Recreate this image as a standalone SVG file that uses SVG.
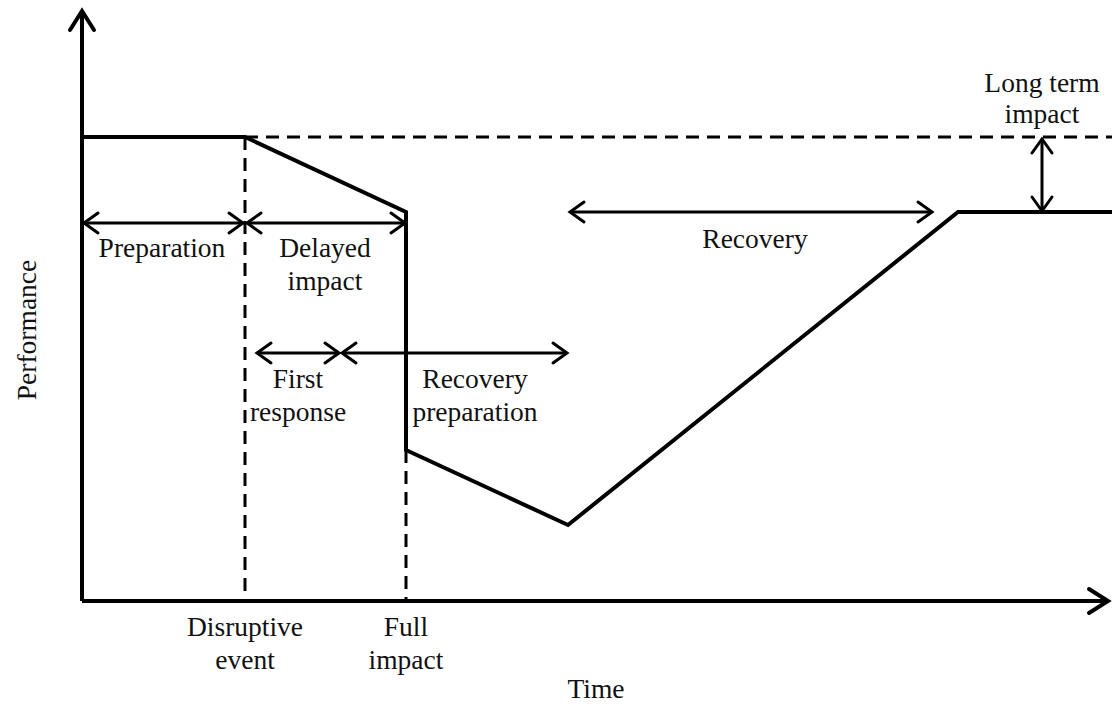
<svg xmlns="http://www.w3.org/2000/svg" width="1112" height="708" viewBox="0 0 1112 708">
<style>
text{font-family:"Liberation Serif","Times New Roman",serif;font-size:27.5px;fill:#111;text-anchor:middle}
.curve{fill:none;stroke:#000;stroke-width:4;stroke-linejoin:miter}
.axis{fill:none;stroke:#000;stroke-width:4}
.dash{fill:none;stroke:#000;stroke-width:3;stroke-dasharray:13 8}
.dim{fill:none;stroke:#000;stroke-width:3}
</style>
<defs>
<marker id="ah" markerUnits="userSpaceOnUse" markerWidth="40" markerHeight="40" refX="0" refY="0" orient="auto-start-reverse" overflow="visible">
<path d="M-14,-10 L0,0 L-14,10" fill="none" stroke="#000" stroke-width="3" stroke-linecap="round" stroke-linejoin="miter"/>
</marker>
<marker id="axh" markerUnits="userSpaceOnUse" markerWidth="40" markerHeight="40" refX="0" refY="0" orient="auto" overflow="visible">
<path d="M-19,-12 L0,0 L-19,12" fill="none" stroke="#000" stroke-width="4" stroke-linecap="round" stroke-linejoin="miter"/>
</marker>
</defs>
<g id="axes">
<path class="axis" d="M82,601 L82,11" marker-end="url(#axh)"/>
<path class="axis" d="M82,601 L1108,601" marker-end="url(#axh)"/>
<text id="ylabel" transform="translate(36,330) rotate(-90)">Performance</text>
<text id="xlabel" x="596" y="698">Time</text>
</g>
<g id="reference-lines">
<path class="dash" d="M245,137 L1112,137"/>
<path class="dash" d="M245,137 L245,601"/>
<path class="dash" d="M406,450 L406,601"/>
</g>
<g id="performance-curve">
<path class="curve" d="M82,137 L245,137 L406,212 L406,450 L568,525 L958,212 L1112,212"/>
</g>
<g id="connectors">
<path class="dim" d="M84,223 L243,223" marker-start="url(#ah)" marker-end="url(#ah)"/>
<path class="dim" d="M247,223 L405,223" marker-start="url(#ah)" marker-end="url(#ah)"/>
<path class="dim" d="M257,353 L339,353" marker-start="url(#ah)" marker-end="url(#ah)"/>
<path class="dim" d="M342,353 L567,353" marker-start="url(#ah)" marker-end="url(#ah)"/>
<path class="dim" d="M570,212 L932,212" marker-start="url(#ah)" marker-end="url(#ah)"/>
<path class="dim" d="M1042,139 L1042,211" marker-start="url(#ah)" marker-end="url(#ah)"/>
</g>
<g id="preparation"><text x="162" y="257">Preparation</text></g>
<g id="delayed-impact"><text x="325" y="257">Delayed</text><text x="325" y="290">impact</text></g>
<g id="first-response"><text x="298" y="388">First</text><text x="298" y="421">response</text></g>
<g id="recovery-preparation"><text x="475" y="388">Recovery</text><text x="475" y="421">preparation</text></g>
<g id="recovery"><text x="755" y="248">Recovery</text></g>
<g id="long-term-impact"><text x="1042" y="92">Long term</text><text x="1042" y="123">impact</text></g>
<g id="disruptive-event"><text x="245" y="636">Disruptive</text><text x="245" y="669">event</text></g>
<g id="full-impact"><text x="406" y="636">Full</text><text x="406" y="669">impact</text></g>
</svg>
